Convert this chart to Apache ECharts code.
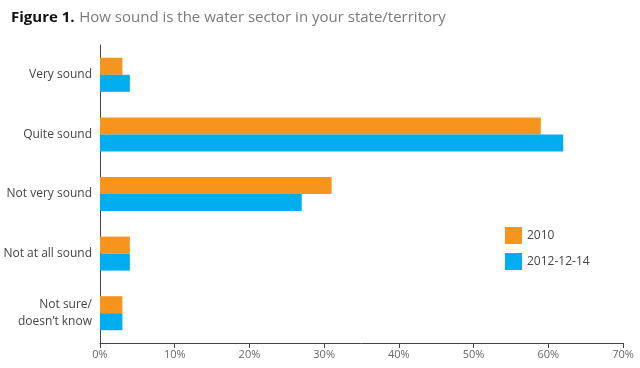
<!DOCTYPE html>
<html><head><meta charset="utf-8">
<script src="https://cdn.jsdelivr.net/npm/echarts@6/dist/echarts.min.js"></script>
<style>html,body{margin:0;padding:0;background:#fff}#c{width:640px;height:368px}</style>
</head><body><div id="c"></div>
<script>
const categories = ["Very sound", "Quite sound", "Not very sound", "Not at all sound", "Not sure/\ndoesn\u2019t know"];
const seriesNames = ["2010", "2012-12-14"];
const values2010 = [3, 59, 31, 4, 3];
const values2012 = [4, 62, 27, 4, 3];
const xTicks = [0, 10, 20, 30, 40, 50, 60, 70];

const chart = echarts.init(document.getElementById('c'));
const font = "'Open Sans', Lato, sans-serif";
chart.setOption({
  animation: false,
  textStyle: {fontFamily: font},
  title: {
    text: '{b|Figure 1.} {n|How sound is the water sector in your state/territory}',
    left: 6, top: 4,
    textStyle: {
      fontWeight: 'normal',
      rich: {
        b: {fontFamily: font, fontWeight: 'bold', fontSize: 15, color: '#111'},
        n: {fontFamily: font, fontWeight: 'normal', fontSize: 15, color: '#7a7a7a'}
      }
    }
  },
  legend: {
    orient: 'vertical', left: 500, top: 222,
    itemWidth: 17, itemHeight: 17, itemGap: 9,
    icon: 'rect',
    textStyle: {fontFamily: font, fontSize: 12, color: '#444'},
    data: seriesNames
  },
  grid: {left: 100, right: 17, top: 45, bottom: 25, containLabel: false},
  xAxis: {
    type: 'value', min: xTicks[0], max: xTicks[xTicks.length - 1], interval: 10,
    axisLine: {show: true, lineStyle: {color: '#444'}},
    axisTick: {show: true, length: 5, lineStyle: {color: '#444'}},
    splitLine: {show: false},
    axisLabel: {formatter: '{value}%', color: '#666', fontSize: 11, margin: 6, fontFamily: font}
  },
  yAxis: {
    type: 'category', data: categories, inverse: true,
    axisLine: {show: true, lineStyle: {color: '#444'}},
    axisTick: {show: false},
    axisLabel: {color: '#444', fontSize: 12, margin: 8, lineHeight: 17, fontFamily: font, align: 'right'}
  },
  series: [
    {name: seriesNames[0], type: 'bar', data: values2010, barWidth: 17, barGap: '0%', itemStyle: {color: '#F7941D'}},
    {name: seriesNames[1], type: 'bar', data: values2012, barWidth: 17, barGap: '0%', itemStyle: {color: '#00AEEF'}}
  ]
});
</script></body></html>
